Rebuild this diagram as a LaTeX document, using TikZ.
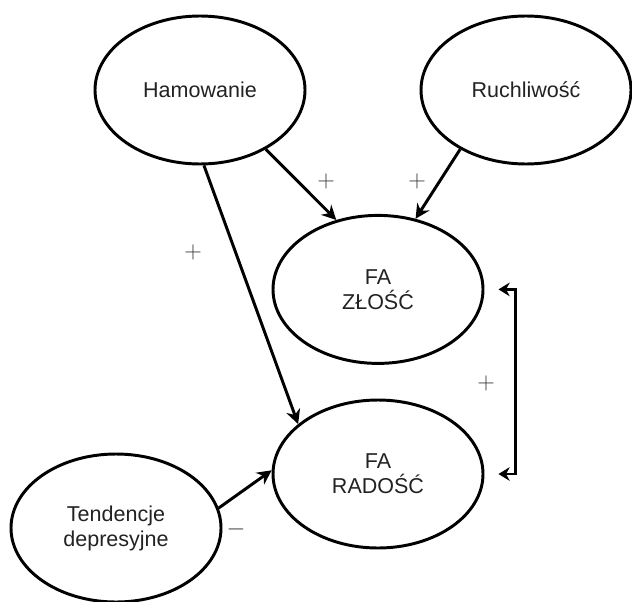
\documentclass[tikz,border=0pt]{standalone}
\usepackage{fontspec}
\setmainfont{Liberation Sans}
\usepackage{xcolor}
\usepackage{tikz}
\usetikzlibrary{shapes.geometric, arrows.meta}

\definecolor{txtgray}{HTML}{222222}
\definecolor{signgray}{HTML}{3A3A3A}

\begin{document}
\begin{tikzpicture}[
    factor/.style={ellipse, draw, line width=2.1pt, minimum width=5.25cm, minimum height=3.7cm,
                   inner sep=0pt, align=center, text=txtgray, font=\fontsize{15.3}{17.8}\selectfont},
    arr/.style={line width=2.1pt, -{Stealth[length=3.6mm, width=3.6mm]}},
    sign/.style={text=signgray, font=\fontsize{17}{20}\selectfont}
]
        \useasboundingbox (0,0) rectangle (15.8,15.025);

        % Factors
        \node[factor] (ham) at (5.0,12.775) {Hamowanie};
        \node[factor] (ruch) at (13.15,12.775) {Ruchliwość};
        \node[factor] (zlosc) at (9.45,7.79) {FA\\ZŁOŚĆ};
        \node[factor] (radosc) at (9.45,3.175) {FA\\RADOŚĆ};
        \node[factor] (tend) at (2.9,1.825) {Tendencje\\depresyjne};

        % Paths
        \draw[arr] (ham.-42.7) -- (zlosc.121.9);
        \draw[arr] (ruch.222.3) -- (zlosc.62.6);
        \draw[arr] (ham.-87.7) -- (radosc.148.9);
        \draw[arr] (tend.11.2) -- (radosc.178);

        % Correlation
        \coordinate (zr) at ([xshift=0.35cm]zlosc.east);
        \coordinate (rr) at ([xshift=0.35cm]radosc.east);
        \draw[line width=2.1pt, {Stealth[length=2.8mm, width=3.4mm]}-{Stealth[length=2.8mm, width=3.4mm]}]
            (zr) -- ++(0.42,0) |- (rr);

        % Signs
        \node[sign] (s1) at (8.15,10.5) {$+$};
        \node[sign] (s2) at (10.425,10.5) {$+$};
        \node[sign] (s3) at (4.825,8.725) {$+$};
        \node[sign] (s4) at (12.15,5.45) {$+$};
        \node[sign] (s5) at (5.9,1.8) {$-$};

    \end{tikzpicture}
\end{document}
